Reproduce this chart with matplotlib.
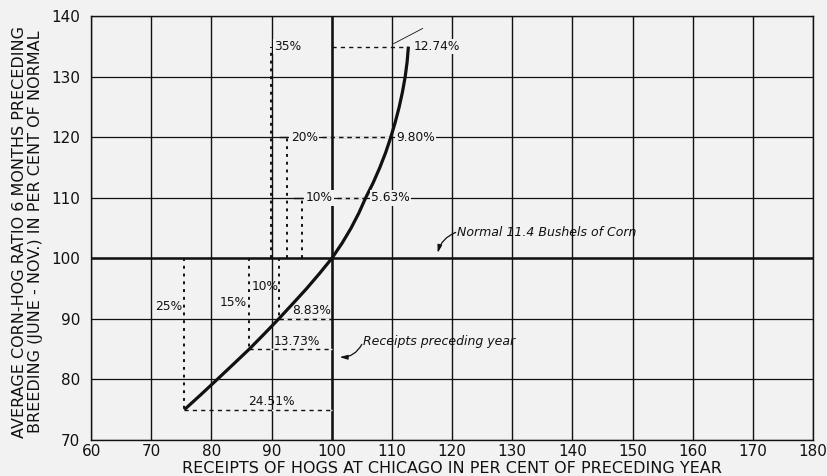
import matplotlib
matplotlib.use("Agg")
import matplotlib.pyplot as plt

# ---- data ----
curve_y = [75, 77.5, 80, 82.5, 85, 87.5, 90, 92.5, 95, 97.5, 100,
           102.5, 105, 107.5, 110, 112.5, 115, 117.5, 120,
           122.5, 125, 127.5, 130, 132.5, 135]
curve_x = [75.49, 78.25, 80.95, 83.62, 86.27, 88.75, 91.17, 93.5, 95.8, 97.95, 100.0,
           101.7, 103.2, 104.5, 105.63, 106.88, 107.98, 108.96, 109.8,
           110.55, 111.2, 111.75, 112.2, 112.53, 112.74]

# points above normal
upper_y = [110, 120, 135]
upper_curve_x = [105.63, 109.80, 112.74]
upper_curve_lbl = ["5.63%", "9.80%", "12.74%"]
upper_vert_x = [95.0, 92.6, 89.9]
upper_vert_lbl = ["10%", "20%", "35%"]

# points below normal
lower_y = [90, 85, 75]
lower_curve_x = [91.17, 86.27, 75.49]
lower_curve_lbl = ["8.83%", "13.73%", "24.51%"]
lower_vert_lbl = ["10%", "15%", "25%"]

x_ticks = list(range(60, 181, 10))
y_ticks = list(range(70, 141, 10))

xlabel = "RECEIPTS OF HOGS AT CHICAGO IN PER CENT OF PRECEDING YEAR"
ylabel1 = "AVERAGE CORN-HOG RATIO 6 MONTHS PRECEDING"
ylabel2 = "BREEDING (JUNE - NOV.) IN PER CENT OF NORMAL"
normal_lbl = "Normal 11.4 Bushels of Corn"
receipts_lbl = "Receipts preceding year"

BG = "#f2f2f2"
INK = "#111111"

plt.rcParams['font.family'] = ['DejaVu Sans']
fig = plt.figure(figsize=(8.28, 4.76), dpi=100, facecolor=BG)
ax = fig.add_axes([0.110, 0.0756, 0.872, 0.890])
ax.set_facecolor(BG)
ax.set_xlim(60, 180)
ax.set_ylim(70, 140)

# grid
for x in x_ticks:
    ax.axvline(x, color=INK, lw=1.0, zorder=1)
for y in y_ticks:
    ax.axhline(y, color=INK, lw=0.9, zorder=1)
ax.axvline(100, color=INK, lw=1.8, zorder=2)
ax.axhline(100, color=INK, lw=1.8, zorder=2)

for s in ax.spines.values():
    s.set_color(INK)
    s.set_linewidth(1.0)

dash_h = dict(color=INK, lw=1.0, linestyle=(0, (3, 3)), gapcolor=BG, zorder=3)
dot_v = dict(color=INK, lw=1.4, linestyle=(0, (1.5, 2.5)), zorder=3)
fs_lbl = 8.8

# upper annotations
for y, cx, cl, vx, vl in zip(upper_y, upper_curve_x, upper_curve_lbl, upper_vert_x, upper_vert_lbl):
    ax.plot([vx, vx], [100, y], **dot_v)
    ax.text(vx + 0.6, y, vl, fontsize=fs_lbl, va='center', ha='left', color=INK, zorder=5,
            bbox=dict(facecolor=BG, edgecolor='none', pad=1.0))
    start = 100 if y == 135 else vx + 5.8
    ax.plot([start, cx], [y, y], **dash_h)
    ax.text(cx + 0.9, y, cl, fontsize=fs_lbl, va='center', ha='left', color=INK, zorder=5,
            bbox=dict(facecolor=BG, edgecolor='none', pad=1.0))

# short solid stubs at vertical tops (20%, 10%)
ax.plot([upper_vert_x[0] - 1.2, upper_vert_x[0]], [110, 110], color=INK, lw=1.0, zorder=3)
ax.plot([upper_vert_x[1] - 1.2, upper_vert_x[1]], [120, 120], color=INK, lw=1.0, zorder=3)

# leader near 12.74%
ax.plot([110.3, 115.1], [135.5, 138.0], color=INK, lw=0.6, zorder=3)

# lower annotations
lbl_pos = [(96.7, 91.4), (94.2, 86.3), (90.0, 76.4)]
vlbl_pos = [(91.1, 95.4), (85.9, 92.8), (75.1, 92.0)]
for (y, cx, cl, vl, lp, vp) in zip(lower_y, lower_curve_x, lower_curve_lbl, lower_vert_lbl, lbl_pos, vlbl_pos):
    ax.plot([cx, cx], [100, y], **dot_v)
    ax.plot([cx, 100], [y, y], **dash_h)
    ax.text(lp[0], lp[1], cl, fontsize=fs_lbl, va='center', ha='center', color=INK, zorder=5)
    ax.text(vp[0], vp[1], vl, fontsize=fs_lbl, va='center', ha='right', color=INK, zorder=5)

# main curve
ax.plot(curve_x, curve_y, color=INK, lw=2.3, solid_capstyle='butt', solid_joinstyle='round', zorder=4)

# annotations with curved arrows
arrow_style = dict(arrowstyle='-|>,head_length=0.45,head_width=0.13', color=INK, lw=0.9,
                   shrinkA=0, shrinkB=0)
ax.text(120.8, 104.3, normal_lbl, fontsize=9, style='italic', color=INK,
        va='center', ha='left', zorder=5)
ax.annotate('', xy=(117.6, 100.9), xytext=(120.6, 104.3),
            arrowprops=dict(connectionstyle='arc3,rad=0.25', **arrow_style))
ax.text(105.2, 86.2, receipts_lbl, fontsize=9, style='italic', color=INK,
        va='center', ha='left', zorder=5)
ax.annotate('', xy=(101.3, 83.7), xytext=(105.0, 85.8),
            arrowprops=dict(connectionstyle='arc3,rad=-0.3', **arrow_style))

ax.set_xticks(x_ticks)
ax.set_yticks(y_ticks)
ax.tick_params(length=0, labelsize=11, colors=INK, pad=8)
ax.tick_params(axis='x', pad=3)

fig.text(0.546, 0.016, xlabel, fontsize=11.5, color=INK, ha='center', va='center')
fig.text(20 / 828, 0.513, ylabel1, fontsize=11.5, color=INK, ha='center', va='center', rotation=90)
fig.text(36 / 828, 0.513, ylabel2, fontsize=11.5, color=INK, ha='center', va='center', rotation=90)

fig.savefig("out.png", dpi=100, facecolor=BG)
